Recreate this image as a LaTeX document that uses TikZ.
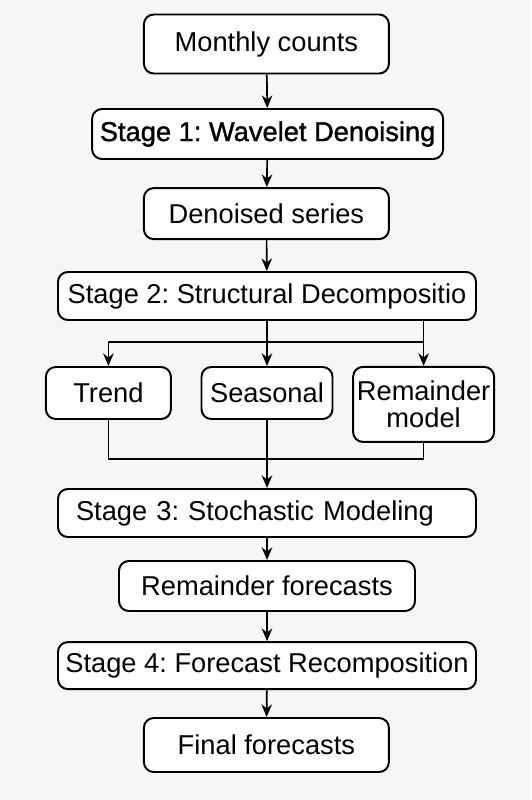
\documentclass[tikz,border=0pt]{standalone}
\usepackage{fontspec}
\setmainfont{Liberation Sans}
\newfontfamily\semibold[FakeBold=1.3]{Liberation Sans}
\usepackage{tikz}
\usetikzlibrary{arrows.meta, positioning, calc}
\definecolor{bgcol}{RGB}{246,246,246}
\frenchspacing

\begin{document}
\begin{tikzpicture}[
  box/.style={draw=black, fill=white, line width=1.4pt, rounded corners=7pt,
    font=\fontsize{19.4pt}{19.6pt}\selectfont, align=center, inner sep=0pt},
  link/.style={line width=1.2pt, black},
  arrow/.style={link, -{Stealth[length=9pt, width=7.5pt]}}
]
  % background and frame
  \fill[bgcol] (0,0) rectangle (13.275,-20);
  \useasboundingbox (0,0) rectangle (13.275,-20);

  % main column
  \node[box, minimum width=6.125cm, minimum height=1.475cm] (counts) at (6.66,-1.1) {Monthly counts};
  \node[box, minimum width=8.775cm, minimum height=1.25cm, font=\fontsize{19.4pt}{19.6pt}\semibold] (stage1) at (6.69,-3.35) {Stage 1: Wavelet Denoising};
  \node[box, minimum width=6.125cm, minimum height=1.275cm] (denoised) at (6.66,-5.34) {Denoised series};
  \node[box, minimum width=10.45cm, minimum height=1.2cm] (stage2) at (6.675,-7.4) {Stage 2: Structural Decompositio};

  % components
  \node[box, minimum width=3.125cm, minimum height=1.3cm] (trend) at (2.71,-9.825) {Trend};
  \node[box, minimum width=3.275cm, minimum height=1.3cm] (seasonal) at (6.675,-9.825) {Seasonal};
  \node[box, minimum width=3.525cm, minimum height=1.875cm] (remainder) at (10.59,-10.11) {Remainder\\model};

  % later stages
  \node[box, minimum height=1.2cm, text width=9.55cm, inner xsep=0.45cm, align=left] (stage3) at (6.675,-12.825) {Stage 3: Stochastic Modeling};
  \node[box, minimum width=7.4cm, minimum height=1.25cm] (remfc) at (6.675,-14.65) {Remainder forecasts};
  \node[box, minimum width=10.45cm, minimum height=1.175cm] (stage4) at (6.675,-16.64) {Stage 4: Forecast Recomposition};
  \node[box, minimum width=6.125cm, minimum height=1.35cm] (final) at (6.66,-18.625) {Final forecasts};

  % split and merge points
  \coordinate (split) at (6.675,-8.55);
  \coordinate (merge) at (6.675,-11.475);

  % arrows
  \draw[arrow] (counts) -- (stage1);
  \draw[arrow] (stage1) -- (denoised);
  \draw[arrow] (denoised) -- (stage2);
  \draw[arrow] (stage2) -- (seasonal);
  \draw[arrow] (stage2.south -| remainder.north) -- (remainder.north);
  \draw[arrow] (split -| remainder.north) -- (split -| trend.north) -- (trend.north);
  \draw[link] (trend.south) -- (trend.south |- merge) -- (remainder.south |- merge) -- (remainder.south);
  \draw[arrow] (seasonal) -- (stage3);
  \draw[arrow] (stage3) -- (remfc);
  \draw[arrow] (remfc) -- (stage4);
  \draw[arrow] (stage4) -- (final);
\end{tikzpicture}
\end{document}
